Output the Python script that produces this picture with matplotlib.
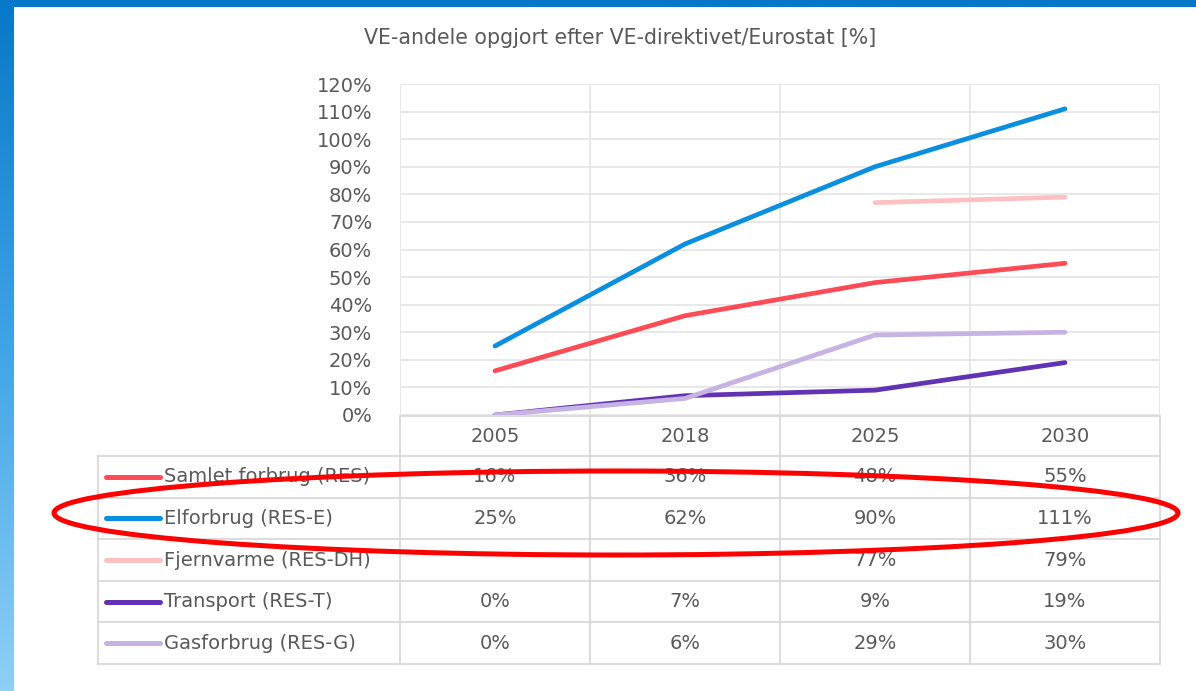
import matplotlib
matplotlib.use("Agg")
import matplotlib.pyplot as plt
from matplotlib.patches import Ellipse, Rectangle
import numpy as np

plt.rcParams['font.family'] = ['DejaVu Sans']

# data
years = ["2005", "2018", "2025", "2030"]
series = ["Samlet forbrug (RES)", "Elforbrug (RES-E)", "Fjernvarme (RES-DH)",
          "Transport (RES-T)", "Gasforbrug (RES-G)"]
samlet = [16, 36, 48, 55]
elforbrug = [25, 62, 90, 111]
fjernvarme = [None, None, 77, 79]
transport = [0, 7, 9, 19]
gasforbrug = [0, 6, 29, 30]
colors = ["#FF4B55", "#0A8FE0", "#FFC0C2", "#6232B4", "#C6B3E3"]
title = "VE-andele opgjort efter VE-direktivet/Eurostat [%]"

values = [samlet, elforbrug, fjernvarme, transport, gasforbrug]

W, H = 1196, 691
fig = plt.figure(figsize=(W / 100, H / 100), dpi=100)
fs = 14

# slide background
bg = fig.add_axes([0, 0, 1, 1], zorder=0)
bg.set_xlim(0, W)
bg.set_ylim(H, 0)
bg.axis("off")
grad = np.linspace(0, 1, 256).reshape(-1, 1)
cmap = matplotlib.colors.LinearSegmentedColormap.from_list("bgblue", ["#0678C8", "#3FA4E8", "#8ED0F6"])
bg.imshow(grad, cmap=cmap, extent=[0, W, H, 0], aspect="auto")
bg.add_patch(Rectangle((14, 7), W - 14, H - 7, facecolor="white", edgecolor="none"))

txt = "#595959"
gridc = "#E4E4E4"
tabc = "#D6D6D6"

bg.text(620, 38, title, ha="center", va="center", fontsize=14.8, color=txt)

# chart area
px0, px1, py0, py1 = 400, 1160, 84, 415
ax = fig.add_axes([px0 / W, 1 - py1 / H, (px1 - px0) / W, (py1 - py0) / H], zorder=1)
ax.patch.set_alpha(0)
x = np.arange(len(years))
for vals, c in zip(values, colors):
    y = np.array([np.nan if v is None else v / 100 for v in vals])
    ax.plot(x, y, color=c, lw=3.4, solid_capstyle="round", zorder=3)
ax.set_xlim(-0.5, len(years) - 0.5)
ax.set_ylim(0, 1.2)
ax.set_yticks(np.arange(0, 1.21, 0.1))
ax.set_yticklabels(["%d%%" % round(t * 100) for t in np.arange(0, 1.21, 0.1)])
ax.tick_params(axis="y", length=0, pad=20, labelsize=fs, labelcolor=txt)
ax.set_xticks([])
ax.yaxis.grid(True, color=gridc, lw=1.2)
for xv in np.arange(-0.5, len(years), 1):
    ax.axvline(xv, color=gridc, lw=1.2)
for s in ax.spines.values():
    s.set_visible(False)

# data table below
col_w = (px1 - px0) / len(years)
tab_left = 98
hdr_top, hdr_bot = 416, 456
row_h = (664 - hdr_bot) / len(series)
for i in range(len(years) + 1):
    xv = px0 + i * col_w
    bg.plot([xv, xv], [hdr_top, 664], color=tabc, lw=1.2)
bg.plot([px0, px1], [hdr_top, hdr_top], color=tabc, lw=1.2)
bg.plot([tab_left, tab_left], [hdr_bot, 664], color=tabc, lw=1.2)
for j in range(len(series) + 1):
    yv = hdr_bot + j * row_h
    bg.plot([tab_left, px1], [yv, yv], color=tabc, lw=1.2)
for i, yr in enumerate(years):
    bg.text(px0 + (i + 0.5) * col_w, (hdr_top + hdr_bot) / 2, yr, ha="center", va="center",
            fontsize=fs, color=txt)
for j, (name, vals, c) in enumerate(zip(series, values, colors)):
    yc = hdr_bot + (j + 0.5) * row_h
    bg.plot([106, 160], [yc, yc], color=c, lw=3.6, solid_capstyle="round")
    bg.text(164, yc, name, ha="left", va="center", fontsize=fs, color=txt)
    for i, v in enumerate(vals):
        if v is None:
            continue
        bg.text(px0 + (i + 0.5) * col_w, yc, "%d%%" % v, ha="center", va="center",
                fontsize=fs, color=txt)

# red highlight ellipse
ov = fig.add_axes([0, 0, 1, 1], zorder=5)
ov.set_xlim(0, W)
ov.set_ylim(H, 0)
ov.axis("off")
ov.patch.set_alpha(0)
ov.add_patch(Ellipse((616, 513), 1124, 84, facecolor="none", edgecolor="#FF0000", lw=3.6))

fig.savefig("out.png", dpi=100)
